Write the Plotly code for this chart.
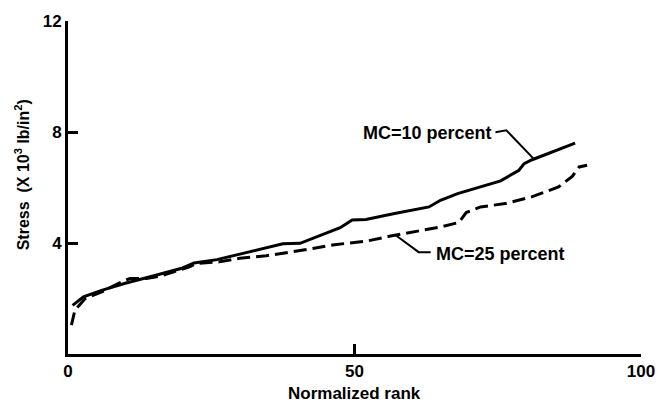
import plotly.graph_objects as go

# Normalized rank vs. stress for two moisture contents
rank_mc10 = [0.8, 2.7, 6.0, 10.0, 15.0, 20.0, 22.0, 26.0, 30.0, 37.5, 40.5,
             45.5, 47.5, 49.6, 52.0, 57.0, 63.0, 65.0, 68.0, 75.5, 77.3,
             78.7, 79.6, 81.0, 88.5]
stress_mc10 = [1.75, 2.06, 2.30, 2.55, 2.82, 3.10, 3.28, 3.40, 3.60, 3.97, 3.99,
               4.38, 4.55, 4.83, 4.85, 5.06, 5.30, 5.54, 5.78, 6.24, 6.44,
               6.62, 6.86, 7.00, 7.60]

rank_mc25 = [0.6, 1.2, 3.0, 6.0, 9.6, 10.8, 13.7, 16.0, 21.2, 22.4, 26.4,
             30.0, 34.6, 39.2, 42.7, 46.5, 51.9, 56.3, 60.6, 65.0, 68.2,
             69.5, 72.0, 76.3, 80.9, 85.6, 88.0, 89.2, 90.6]
stress_mc25 = [1.04, 1.58, 2.00, 2.25, 2.62, 2.72, 2.72, 2.80, 3.14, 3.26, 3.32,
               3.45, 3.54, 3.68, 3.80, 3.94, 4.06, 4.25, 4.40, 4.58, 4.74,
               5.10, 5.30, 5.42, 5.66, 6.02, 6.40, 6.74, 6.80]

x_ticks = [0, 50, 100]
y_ticks = [4, 8, 12]

FONT = "Liberation Sans"
INK = "black"

fig = go.Figure()
fig.add_trace(go.Scatter(x=rank_mc10, y=stress_mc10, mode="lines",
                         line=dict(color=INK, width=3), name="MC=10 percent"))
fig.add_trace(go.Scatter(x=rank_mc25, y=stress_mc25, mode="lines",
                         line=dict(color=INK, width=3, dash="13px,6px"),
                         name="MC=25 percent"))

# leader lines from the labels to the curves
fig.add_shape(type="path", path="M 74.6,7.99 L 76.5,8.06 L 81.2,7.05",
              line=dict(color=INK, width=2))
fig.add_shape(type="path", path="M 57.2,4.28 L 61.2,3.67 L 63.3,3.67",
              line=dict(color=INK, width=2))

lab_font = dict(family=FONT, size=18, color=INK, weight="bold")
fig.add_annotation(x=74.3, y=7.95, text="MC=10 percent", showarrow=False,
                   xanchor="right", yanchor="middle", font=lab_font)
fig.add_annotation(x=63.8, y=3.62, text="MC=25 percent", showarrow=False,
                   xanchor="left", yanchor="middle", font=lab_font)

# axis titles
fig.add_annotation(xref="paper", yref="paper", x=0.5, y=-0.118,
                   text="Normalized rank", showarrow=False,
                   xanchor="center", yanchor="middle",
                   font=dict(family=FONT, size=17, color=INK, weight="bold"))
fig.add_annotation(xref="paper", yref="paper", x=-0.08, y=0.537,
                   text="Stress  (X 10<sup>3</sup> lb/in<sup>2</sup>)",
                   showarrow=False, textangle=-90,
                   xanchor="center", yanchor="middle",
                   font=dict(family=FONT, size=16, color=INK, weight="bold"))

tick_font = dict(family=FONT, size=17, color=INK, weight="bold")
fig.update_xaxes(range=[0, 100], tickvals=x_ticks, ticktext=[str(v) for v in x_ticks],
                 ticks="inside", ticklen=10, tickwidth=2.5, tickcolor=INK,
                 showline=True, linecolor=INK, linewidth=3,
                 showgrid=False, zeroline=False, tickfont=tick_font)
fig.update_yaxes(range=[0, 12], tickvals=y_ticks, ticktext=[str(v) for v in y_ticks],
                 ticks="inside", ticklen=10, tickwidth=2.5, tickcolor=INK,
                 showline=True, linecolor=INK, linewidth=3,
                 showgrid=False, zeroline=False, tickfont=tick_font)

fig.update_layout(width=667, height=405, showlegend=False,
                  paper_bgcolor="white", plot_bgcolor="white",
                  margin=dict(l=68, r=24, t=20, b=51))

fig.write_html("out.html")
